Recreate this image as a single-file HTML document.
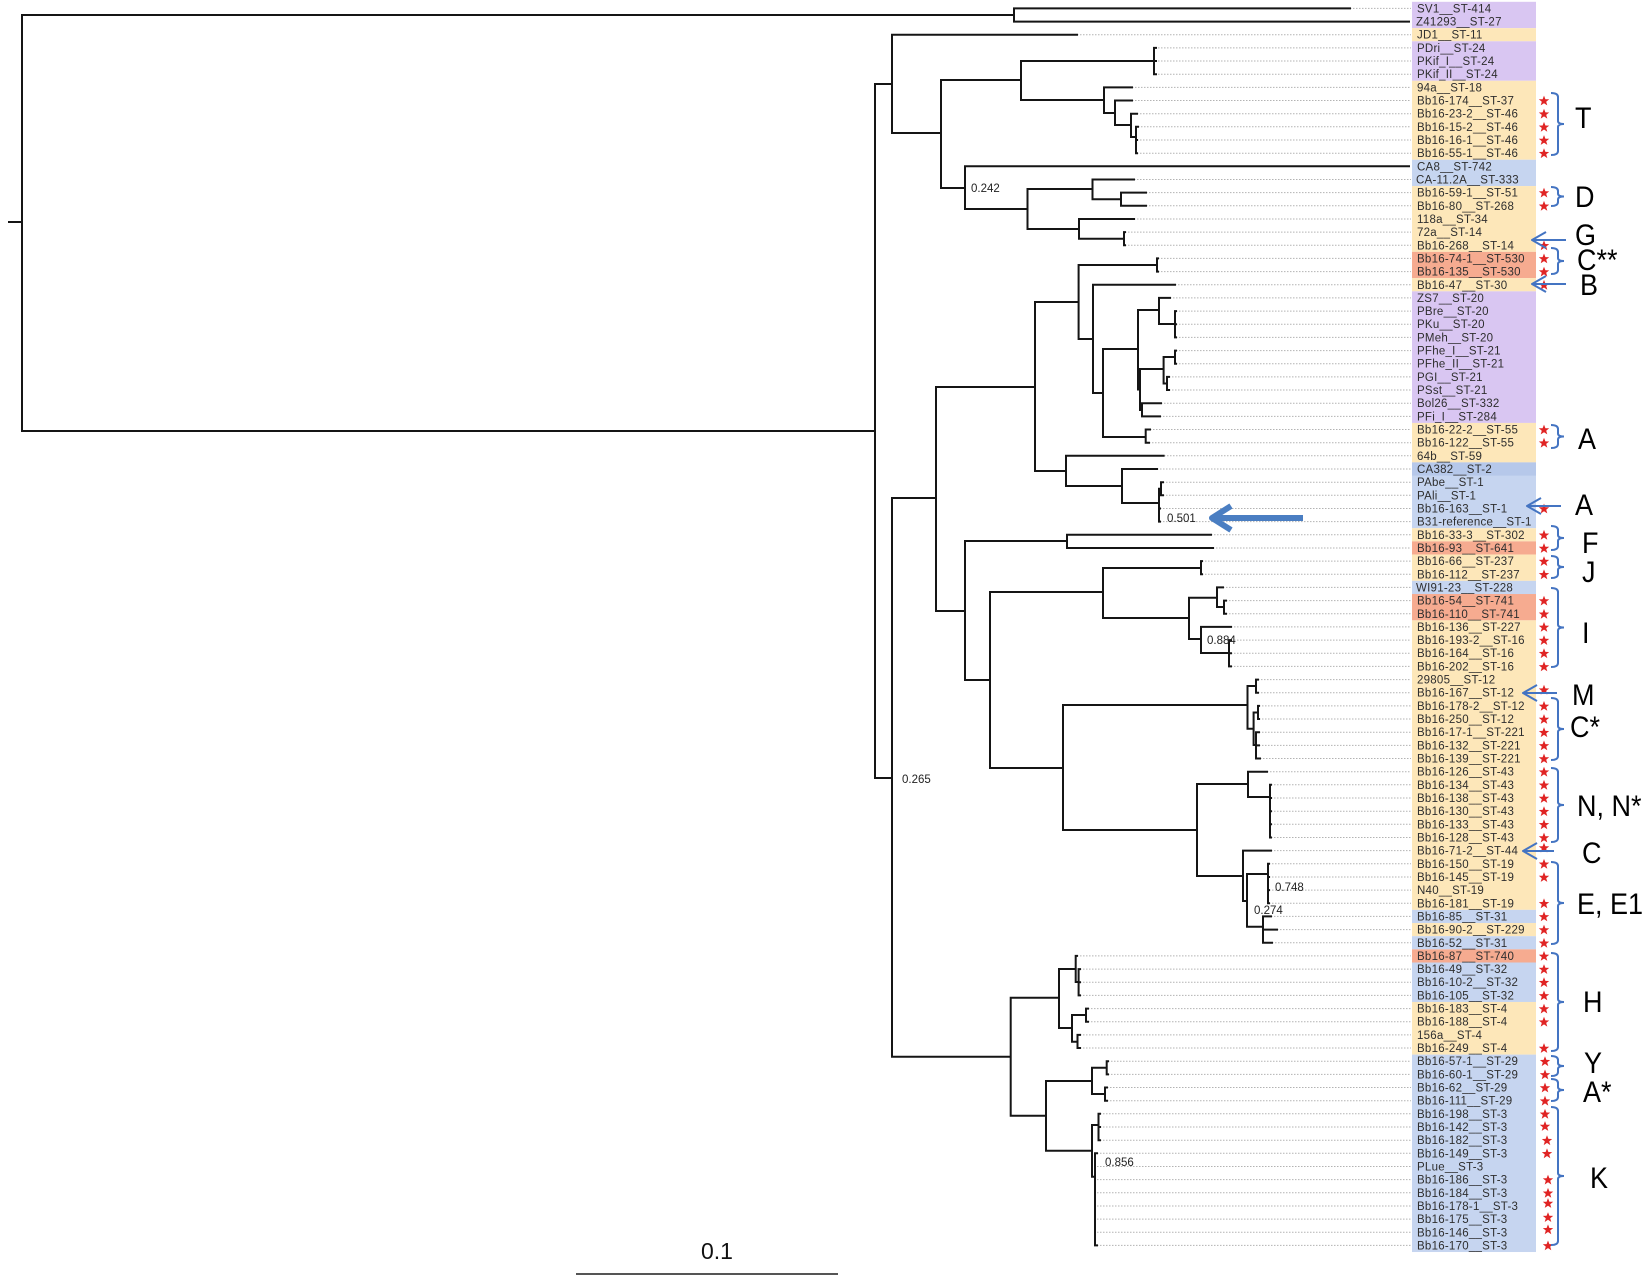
<!DOCTYPE html>
<html><head><meta charset="utf-8"><style>
html,body{margin:0;padding:0;background:#fff;}
svg{display:block;}
.lb{font-family:"Liberation Sans",Arial,sans-serif;font-size:11.5px;letter-spacing:0.25px;fill:#2e2e2e;}
.nl{font-family:"Liberation Sans",Arial,sans-serif;font-size:11.5px;fill:#222;}
.big{font-family:"Liberation Sans",Arial,sans-serif;font-size:30px;fill:#000;}
</style></head><body>
<svg width="1650" height="1283" viewBox="0 0 1650 1283" xmlns="http://www.w3.org/2000/svg">
<rect width="1650" height="1283" fill="#fff"/>
<g>
<rect x="1412" y="1.82" width="124" height="26.32" fill="#D9C6F2"/>
<rect x="1412" y="28.14" width="124" height="13.16" fill="#FDE7B9"/>
<rect x="1412" y="41.3" width="124" height="39.48" fill="#D9C6F2"/>
<rect x="1412" y="80.78" width="124" height="78.96" fill="#FDE7B9"/>
<rect x="1412" y="159.74" width="124" height="26.32" fill="#C6D5F0"/>
<rect x="1412" y="186.06" width="124" height="65.8" fill="#FDE7B9"/>
<rect x="1412" y="251.86" width="124" height="26.32" fill="#F6AB90"/>
<rect x="1412" y="278.18" width="124" height="13.16" fill="#FDE7B9"/>
<rect x="1412" y="291.34" width="124" height="131.6" fill="#D9C6F2"/>
<rect x="1412" y="422.94" width="124" height="39.48" fill="#FDE7B9"/>
<rect x="1412" y="462.42" width="124" height="65.8" fill="#C6D5F0"/>
<rect x="1412" y="462.42" width="124" height="13.16" fill="#B6C8EA"/>
<rect x="1412" y="528.22" width="124" height="13.16" fill="#FDE7B9"/>
<rect x="1412" y="541.38" width="124" height="13.16" fill="#F6AB90"/>
<rect x="1412" y="554.54" width="124" height="26.32" fill="#FDE7B9"/>
<rect x="1412" y="580.86" width="124" height="13.16" fill="#C6D5F0"/>
<rect x="1412" y="594.02" width="124" height="26.32" fill="#F6AB90"/>
<rect x="1412" y="620.34" width="124" height="289.52" fill="#FDE7B9"/>
<rect x="1412" y="909.86" width="124" height="13.16" fill="#C6D5F0"/>
<rect x="1412" y="923.02" width="124" height="13.16" fill="#FDE7B9"/>
<rect x="1412" y="936.18" width="124" height="13.16" fill="#C6D5F0"/>
<rect x="1412" y="949.34" width="124" height="13.16" fill="#F6AB90"/>
<rect x="1412" y="962.5" width="124" height="39.48" fill="#C6D5F0"/>
<rect x="1412" y="1001.98" width="124" height="52.64" fill="#FDE7B9"/>
<rect x="1412" y="1054.62" width="124" height="197.4" fill="#C6D5F0"/>
</g>
<path fill="none" stroke="#b3b3b3" stroke-width="1" stroke-dasharray="1.5 1.5" d="
M1350 8.4H1411 M1077 34.7H1411 M1155 47.9H1411 M1155 61H1411 M1155 74.2H1411
M1132 87.4H1411 M1132 100.5H1411 M1137 113.7H1411 M1138 126.8H1411 M1137 140H1411 M1137 153.2H1411
M1134 179.5H1411 M1146 192.6H1411 M1146 205.8H1411 M1134 219H1411 M1125 232.1H1411 M1125 245.3H1411
M1158 258.4H1411 M1158 271.6H1411 M1175 284.8H1411 M1170 297.9H1411 M1176 311.1H1411 M1176 324.2H1411 M1176 337.4H1411
M1176 350.6H1411 M1176 363.7H1411 M1169 376.9H1411 M1169 390H1411 M1161 403.2H1411 M1160 416.4H1411 M1150 429.5H1411
M1149 442.7H1411 M1164 455.8H1411 M1157 469H1411 M1163 482.2H1411 M1163 495.3H1411 M1160 508.5H1411 M1160 521.6H1411
M1211 534.8H1411 M1213 548H1411 M1202 561.1H1411 M1202 574.3H1411 M1223 587.4H1411 M1226 600.6H1411 M1226 613.8H1411
M1231 626.9H1411 M1231 640.1H1411 M1231 653.2H1411 M1231 666.4H1411
M1258 679.6H1411 M1258 692.7H1411 M1259 705.9H1411 M1259 719H1411 M1259 732.2H1411 M1259 745.4H1411 M1260 758.5H1411
M1267 771.7H1411 M1271 784.8H1411 M1271 798H1411 M1271 811.2H1411 M1271 824.3H1411 M1271 837.5H1411 M1271 850.6H1411
M1269 863.8H1411 M1269 877H1411 M1269 890.1H1411 M1269 903.3H1411 M1271 916.4H1411 M1277 929.6H1411 M1272 942.8H1411
M1077 955.9H1411 M1080 969.1H1411 M1080 982.2H1411 M1080 995.4H1411 M1088 1008.6H1411 M1088 1021.7H1411 M1080 1034.9H1411 M1080 1048H1411
M1108 1061.2H1411 M1108 1074.4H1411 M1107 1087.5H1411 M1107 1100.7H1411 M1100 1113.8H1411 M1100 1127H1411 M1100 1140.2H1411
M1097 1153.3H1411 M1097 1166.5H1411 M1097 1179.6H1411 M1097 1192.8H1411 M1097 1206H1411 M1097 1219.1H1411 M1097 1232.3H1411 M1097 1245.4H1411"/>
<path fill="none" stroke="#151515" stroke-width="2" stroke-linecap="square" d="
M9 222H22 M22 15V431 M22 15H1014 M1014 8.4V21.6 M1014 8.4H1350 M1014 21.6H1409
M22 431H875 M875 84V778 M875 84H892 M892 34.7V133 M892 34.7H1077 M892 133H941
M941 80V188 M941 80H1021 M1021 61V100 M1021 61H1154 M1154 47.9V74.2 M1154 47.9H1156 M1154 61H1156 M1154 74.2H1156
M1021 100H1104 M1104 87.4V113 M1104 87.4H1132 M1104 113H1115 M1115 100.5V125 M1115 100.5H1132
M1115 125H1131 M1131 113.7V137 M1131 113.7H1137 M1131 137H1136 M1136 126.8V153.2 M1136 126.8H1138 M1136 140H1137 M1136 153.2H1137
M941 188H965 M965 166.3V209 M965 166.3H1409 M965 209H1027.5 M1027.5 189V229 M1027.5 189H1092.5
M1092.5 179.5V199.2 M1092.5 179.5H1134 M1092.5 199.2H1121 M1121 192.6V205.8 M1121 192.6H1146 M1121 205.8H1146
M1027.5 229H1079 M1079 219V238.7 M1079 219H1134 M1079 238.7H1124 M1124 232.1V245.3 M1124 232.1H1125 M1124 245.3H1125
M875 778H892 M892 498V1056.7 M892 498H936 M936 387V611 M936 387H1035 M1035 302V471 M1035 302H1078.6
M1078.6 265V339 M1078.6 265H1157 M1157 258.4V271.6 M1157 258.4H1158 M1157 271.6H1158
M1078.6 339H1093 M1093 284.8V393 M1093 284.8H1175 M1093 393H1103 M1103 349V437 M1103 349H1138
M1138 310V389.5 M1138 310H1159 M1159 297.9V324 M1159 297.9H1170 M1159 324H1175 M1175 311.1V337.4 M1175 311.1H1176 M1175 324.2H1176 M1175 337.4H1176
M1138 389.5H1140 M1140 369V410 M1140 369H1163.6 M1163.6 357V383.5 M1163.6 357H1175 M1175 350.6V363.7 M1175 350.6H1176 M1175 363.7H1176
M1163.6 383.5H1167 M1167 376.9V390 M1167 376.9H1169 M1167 390H1169
M1140 410H1142 M1142 403.2V416.4 M1142 403.2H1161 M1142 416.4H1160
M1103 437H1145.7 M1145.7 429.5V442.7 M1145.7 429.5H1150 M1145.7 442.7H1149
M1035 471H1066 M1066 455.8V486 M1066 455.8H1163.6 M1066 486H1122 M1122 469V503 M1122 469H1157 M1122 503H1159
M1159 488.7V521.6 M1159 488.7H1161 M1161 482.2V495.3 M1161 482.2H1163 M1161 495.3H1163 M1159 508.5H1160 M1159 521.6H1160
M936 611H965 M965 541V680 M965 541H1067 M1067 534.8V548 M1067 534.8H1211 M1067 548H1213
M965 680H990 M990 592V768 M990 592H1103 M1103 568V618 M1103 568H1201 M1201 561.1V574.3 M1201 561.1H1202 M1201 574.3H1202
M1103 618H1189 M1189 597.7V639 M1189 597.7H1217 M1217 587.4V607 M1217 587.4H1223 M1217 607H1224 M1224 600.6V613.8 M1224 600.6H1226 M1224 613.8H1226
M1189 639H1201 M1201 626.9V653 M1201 626.9H1231 M1201 653H1229 M1229 640.1V666.4 M1229 640.1H1231 M1229 653.2H1231 M1229 666.4H1231
M990 768H1063 M1063 705V830 M1063 705H1247.5 M1247.5 686V728.8 M1247.5 686H1256 M1256 679.6V692.7 M1256 679.6H1258 M1256 692.7H1258
M1247.5 728.8H1253.6 M1253.6 712.5V745 M1253.6 712.5H1258 M1258 705.9V719 M1258 705.9H1259 M1258 719H1259
M1253.6 745H1256 M1256 732.2V758.5 M1256 732.2H1259 M1256 745.4H1259 M1256 758.5H1260
M1063 830H1197 M1197 784V876 M1197 784H1248 M1248 771.7V797 M1248 771.7H1267 M1248 797H1270 M1270 784.8V837.5
M1270 784.8H1271 M1270 798H1271 M1270 811.2H1271 M1270 824.3H1271 M1270 837.5H1271
M1197 876H1243 M1243 850.6V901 M1243 850.6H1271 M1243 901H1247 M1247 874V926.7 M1247 874H1268 M1268 863.8V903.3
M1268 863.8H1269 M1268 877H1269 M1268 890.1H1269 M1268 903.3H1269
M1247 926.7H1263 M1263 916.4V942.8 M1263 916.4H1271 M1263 929.6H1277 M1263 942.8H1272
M892 1056.7H1010.7 M1010.7 997.7V1115.7 M1010.7 997.7H1059 M1059 969V1028 M1059 969H1075.7
M1075.7 955.9V982 M1075.7 955.9H1077 M1075.7 982H1078.6 M1078.6 969.1V995.4 M1078.6 969.1H1080 M1078.6 982.2H1080 M1078.6 995.4H1080
M1059 1028H1072 M1072 1015V1041.7 M1072 1015H1086 M1086 1008.6V1021.7 M1086 1008.6H1088 M1086 1021.7H1088
M1072 1041.7H1077.5 M1077.5 1034.9V1048 M1077.5 1034.9H1080 M1077.5 1048H1080
M1010.7 1115.7H1046 M1046 1081V1150.7 M1046 1081H1092 M1092 1067.7V1094 M1092 1067.7H1106.7 M1106.7 1061.2V1074.4 M1106.7 1061.2H1108 M1106.7 1074.4H1108
M1092 1094H1105 M1105 1087.5V1100.7 M1105 1087.5H1107 M1105 1100.7H1107
M1046 1150.7H1092 M1092 1125V1176.7 M1092 1125H1098.5 M1098.5 1113.8V1140.2 M1098.5 1113.8H1100 M1098.5 1127H1100 M1098.5 1140.2H1100
M1092 1176.7H1095 M1095 1153.3V1245.4 M1095 1153.3H1097 M1095 1245.4H1097"/>
<text class="nl" x="971" y="192">0.242</text>
<text class="nl" x="1167" y="522">0.501</text>
<text class="nl" x="1207" y="644">0.884</text>
<text class="nl" x="902" y="783">0.265</text>
<text class="nl" x="1275" y="891">0.748</text>
<text class="nl" x="1254" y="914">0.274</text>
<text class="nl" x="1105" y="1166">0.856</text>
<path d="M1303 518H1216 M1231 506L1212 518L1231 530" fill="none" stroke="#4A7EC2" stroke-width="6" stroke-linejoin="round"/>
<g class="lb">
<text x="1417" y="12.4">SV1__ST-414</text>
<text x="1416" y="25.6">Z41293__ST-27</text>
<text x="1417" y="38.7">JD1__ST-11</text>
<text x="1417" y="51.9">PDri__ST-24</text>
<text x="1417" y="65">PKif_I__ST-24</text>
<text x="1417" y="78.2">PKif_II__ST-24</text>
<text x="1417" y="91.4">94a__ST-18</text>
<text x="1417" y="104.5">Bb16-174__ST-37</text>
<text x="1417" y="117.7">Bb16-23-2__ST-46</text>
<text x="1417" y="130.8">Bb16-15-2__ST-46</text>
<text x="1417" y="144">Bb16-16-1__ST-46</text>
<text x="1417" y="157.2">Bb16-55-1__ST-46</text>
<text x="1417" y="170.3">CA8__ST-742</text>
<text x="1416" y="183.5">CA-11.2A__ST-333</text>
<text x="1417" y="196.6">Bb16-59-1__ST-51</text>
<text x="1417" y="209.8">Bb16-80__ST-268</text>
<text x="1417" y="223">118a__ST-34</text>
<text x="1417" y="236.1">72a__ST-14</text>
<text x="1417" y="249.3">Bb16-268__ST-14</text>
<text x="1417" y="262.4">Bb16-74-1__ST-530</text>
<text x="1417" y="275.6">Bb16-135__ST-530</text>
<text x="1417" y="288.8">Bb16-47__ST-30</text>
<text x="1417" y="301.9">ZS7__ST-20</text>
<text x="1417" y="315.1">PBre__ST-20</text>
<text x="1417" y="328.2">PKu__ST-20</text>
<text x="1417" y="341.4">PMeh__ST-20</text>
<text x="1417" y="354.6">PFhe_I__ST-21</text>
<text x="1417" y="367.7">PFhe_II__ST-21</text>
<text x="1417" y="380.9">PGI__ST-21</text>
<text x="1417" y="394">PSst__ST-21</text>
<text x="1417" y="407.2">Bol26__ST-332</text>
<text x="1417" y="420.4">PFi_I__ST-284</text>
<text x="1417" y="433.5">Bb16-22-2__ST-55</text>
<text x="1417" y="446.7">Bb16-122__ST-55</text>
<text x="1417" y="459.8">64b__ST-59</text>
<text x="1417" y="473">CA382__ST-2</text>
<text x="1417" y="486.2">PAbe__ST-1</text>
<text x="1417" y="499.3">PAli__ST-1</text>
<text x="1417" y="512.5">Bb16-163__ST-1</text>
<text x="1417" y="525.6">B31-reference__ST-1</text>
<text x="1417" y="538.8">Bb16-33-3__ST-302</text>
<text x="1417" y="552">Bb16-93__ST-641</text>
<text x="1417" y="565.1">Bb16-66__ST-237</text>
<text x="1417" y="578.3">Bb16-112__ST-237</text>
<text x="1416" y="591.4">WI91-23__ST-228</text>
<text x="1417" y="604.6">Bb16-54__ST-741</text>
<text x="1417" y="617.8">Bb16-110__ST-741</text>
<text x="1417" y="630.9">Bb16-136__ST-227</text>
<text x="1417" y="644.1">Bb16-193-2__ST-16</text>
<text x="1417" y="657.2">Bb16-164__ST-16</text>
<text x="1417" y="670.4">Bb16-202__ST-16</text>
<text x="1417" y="683.6">29805__ST-12</text>
<text x="1417" y="696.7">Bb16-167__ST-12</text>
<text x="1417" y="709.9">Bb16-178-2__ST-12</text>
<text x="1417" y="723">Bb16-250__ST-12</text>
<text x="1417" y="736.2">Bb16-17-1__ST-221</text>
<text x="1417" y="749.4">Bb16-132__ST-221</text>
<text x="1417" y="762.5">Bb16-139__ST-221</text>
<text x="1417" y="775.7">Bb16-126__ST-43</text>
<text x="1417" y="788.8">Bb16-134__ST-43</text>
<text x="1417" y="802">Bb16-138__ST-43</text>
<text x="1417" y="815.2">Bb16-130__ST-43</text>
<text x="1417" y="828.3">Bb16-133__ST-43</text>
<text x="1417" y="841.5">Bb16-128__ST-43</text>
<text x="1417" y="854.6">Bb16-71-2__ST-44</text>
<text x="1417" y="867.8">Bb16-150__ST-19</text>
<text x="1417" y="881">Bb16-145__ST-19</text>
<text x="1417" y="894.1">N40__ST-19</text>
<text x="1417" y="907.3">Bb16-181__ST-19</text>
<text x="1417" y="920.4">Bb16-85__ST-31</text>
<text x="1417" y="933.6">Bb16-90-2__ST-229</text>
<text x="1417" y="946.8">Bb16-52__ST-31</text>
<text x="1417" y="959.9">Bb16-87__ST-740</text>
<text x="1417" y="973.1">Bb16-49__ST-32</text>
<text x="1417" y="986.2">Bb16-10-2__ST-32</text>
<text x="1417" y="999.4">Bb16-105__ST-32</text>
<text x="1417" y="1012.6">Bb16-183__ST-4</text>
<text x="1417" y="1025.7">Bb16-188__ST-4</text>
<text x="1417" y="1038.9">156a__ST-4</text>
<text x="1417" y="1052">Bb16-249__ST-4</text>
<text x="1417" y="1065.2">Bb16-57-1__ST-29</text>
<text x="1417" y="1078.4">Bb16-60-1__ST-29</text>
<text x="1417" y="1091.5">Bb16-62__ST-29</text>
<text x="1417" y="1104.7">Bb16-111__ST-29</text>
<text x="1417" y="1117.8">Bb16-198__ST-3</text>
<text x="1417" y="1131">Bb16-142__ST-3</text>
<text x="1417" y="1144.2">Bb16-182__ST-3</text>
<text x="1417" y="1157.3">Bb16-149__ST-3</text>
<text x="1417" y="1170.5">PLue__ST-3</text>
<text x="1417" y="1183.6">Bb16-186__ST-3</text>
<text x="1417" y="1196.8">Bb16-184__ST-3</text>
<text x="1417" y="1210">Bb16-178-1__ST-3</text>
<text x="1417" y="1223.1">Bb16-175__ST-3</text>
<text x="1417" y="1236.3">Bb16-146__ST-3</text>
<text x="1417" y="1249.4">Bb16-170__ST-3</text>
</g>
<g fill="#E02424">
<path transform="translate(1544,101)" d="M0 -5.4L1.4 -1.8L5.2 -1.7L2.2 0.7L3.3 4.4L0 2.2L-3.3 4.4L-2.2 0.7L-5.2 -1.7L-1.4 -1.8Z"/>
<path transform="translate(1544,114.2)" d="M0 -5.4L1.4 -1.8L5.2 -1.7L2.2 0.7L3.3 4.4L0 2.2L-3.3 4.4L-2.2 0.7L-5.2 -1.7L-1.4 -1.8Z"/>
<path transform="translate(1544,127.3)" d="M0 -5.4L1.4 -1.8L5.2 -1.7L2.2 0.7L3.3 4.4L0 2.2L-3.3 4.4L-2.2 0.7L-5.2 -1.7L-1.4 -1.8Z"/>
<path transform="translate(1544,140.5)" d="M0 -5.4L1.4 -1.8L5.2 -1.7L2.2 0.7L3.3 4.4L0 2.2L-3.3 4.4L-2.2 0.7L-5.2 -1.7L-1.4 -1.8Z"/>
<path transform="translate(1544,153.7)" d="M0 -5.4L1.4 -1.8L5.2 -1.7L2.2 0.7L3.3 4.4L0 2.2L-3.3 4.4L-2.2 0.7L-5.2 -1.7L-1.4 -1.8Z"/>
<path transform="translate(1544,193.1)" d="M0 -5.4L1.4 -1.8L5.2 -1.7L2.2 0.7L3.3 4.4L0 2.2L-3.3 4.4L-2.2 0.7L-5.2 -1.7L-1.4 -1.8Z"/>
<path transform="translate(1544,206.3)" d="M0 -5.4L1.4 -1.8L5.2 -1.7L2.2 0.7L3.3 4.4L0 2.2L-3.3 4.4L-2.2 0.7L-5.2 -1.7L-1.4 -1.8Z"/>
<path transform="translate(1544,245.8)" d="M0 -5.4L1.4 -1.8L5.2 -1.7L2.2 0.7L3.3 4.4L0 2.2L-3.3 4.4L-2.2 0.7L-5.2 -1.7L-1.4 -1.8Z"/>
<path transform="translate(1544,258.9)" d="M0 -5.4L1.4 -1.8L5.2 -1.7L2.2 0.7L3.3 4.4L0 2.2L-3.3 4.4L-2.2 0.7L-5.2 -1.7L-1.4 -1.8Z"/>
<path transform="translate(1544,272.1)" d="M0 -5.4L1.4 -1.8L5.2 -1.7L2.2 0.7L3.3 4.4L0 2.2L-3.3 4.4L-2.2 0.7L-5.2 -1.7L-1.4 -1.8Z"/>
<path transform="translate(1544,285.3)" d="M0 -5.4L1.4 -1.8L5.2 -1.7L2.2 0.7L3.3 4.4L0 2.2L-3.3 4.4L-2.2 0.7L-5.2 -1.7L-1.4 -1.8Z"/>
<path transform="translate(1544,430)" d="M0 -5.4L1.4 -1.8L5.2 -1.7L2.2 0.7L3.3 4.4L0 2.2L-3.3 4.4L-2.2 0.7L-5.2 -1.7L-1.4 -1.8Z"/>
<path transform="translate(1544,443.2)" d="M0 -5.4L1.4 -1.8L5.2 -1.7L2.2 0.7L3.3 4.4L0 2.2L-3.3 4.4L-2.2 0.7L-5.2 -1.7L-1.4 -1.8Z"/>
<path transform="translate(1544,509)" d="M0 -5.4L1.4 -1.8L5.2 -1.7L2.2 0.7L3.3 4.4L0 2.2L-3.3 4.4L-2.2 0.7L-5.2 -1.7L-1.4 -1.8Z"/>
<path transform="translate(1544,535.3)" d="M0 -5.4L1.4 -1.8L5.2 -1.7L2.2 0.7L3.3 4.4L0 2.2L-3.3 4.4L-2.2 0.7L-5.2 -1.7L-1.4 -1.8Z"/>
<path transform="translate(1544,548.5)" d="M0 -5.4L1.4 -1.8L5.2 -1.7L2.2 0.7L3.3 4.4L0 2.2L-3.3 4.4L-2.2 0.7L-5.2 -1.7L-1.4 -1.8Z"/>
<path transform="translate(1544,561.6)" d="M0 -5.4L1.4 -1.8L5.2 -1.7L2.2 0.7L3.3 4.4L0 2.2L-3.3 4.4L-2.2 0.7L-5.2 -1.7L-1.4 -1.8Z"/>
<path transform="translate(1544,574.8)" d="M0 -5.4L1.4 -1.8L5.2 -1.7L2.2 0.7L3.3 4.4L0 2.2L-3.3 4.4L-2.2 0.7L-5.2 -1.7L-1.4 -1.8Z"/>
<path transform="translate(1544,601.1)" d="M0 -5.4L1.4 -1.8L5.2 -1.7L2.2 0.7L3.3 4.4L0 2.2L-3.3 4.4L-2.2 0.7L-5.2 -1.7L-1.4 -1.8Z"/>
<path transform="translate(1544,614.3)" d="M0 -5.4L1.4 -1.8L5.2 -1.7L2.2 0.7L3.3 4.4L0 2.2L-3.3 4.4L-2.2 0.7L-5.2 -1.7L-1.4 -1.8Z"/>
<path transform="translate(1544,627.4)" d="M0 -5.4L1.4 -1.8L5.2 -1.7L2.2 0.7L3.3 4.4L0 2.2L-3.3 4.4L-2.2 0.7L-5.2 -1.7L-1.4 -1.8Z"/>
<path transform="translate(1544,640.6)" d="M0 -5.4L1.4 -1.8L5.2 -1.7L2.2 0.7L3.3 4.4L0 2.2L-3.3 4.4L-2.2 0.7L-5.2 -1.7L-1.4 -1.8Z"/>
<path transform="translate(1544,653.7)" d="M0 -5.4L1.4 -1.8L5.2 -1.7L2.2 0.7L3.3 4.4L0 2.2L-3.3 4.4L-2.2 0.7L-5.2 -1.7L-1.4 -1.8Z"/>
<path transform="translate(1544,666.9)" d="M0 -5.4L1.4 -1.8L5.2 -1.7L2.2 0.7L3.3 4.4L0 2.2L-3.3 4.4L-2.2 0.7L-5.2 -1.7L-1.4 -1.8Z"/>
<path transform="translate(1544,690.2)" d="M0 -5.4L1.4 -1.8L5.2 -1.7L2.2 0.7L3.3 4.4L0 2.2L-3.3 4.4L-2.2 0.7L-5.2 -1.7L-1.4 -1.8Z"/>
<path transform="translate(1544,706.4)" d="M0 -5.4L1.4 -1.8L5.2 -1.7L2.2 0.7L3.3 4.4L0 2.2L-3.3 4.4L-2.2 0.7L-5.2 -1.7L-1.4 -1.8Z"/>
<path transform="translate(1544,719.5)" d="M0 -5.4L1.4 -1.8L5.2 -1.7L2.2 0.7L3.3 4.4L0 2.2L-3.3 4.4L-2.2 0.7L-5.2 -1.7L-1.4 -1.8Z"/>
<path transform="translate(1544,732.7)" d="M0 -5.4L1.4 -1.8L5.2 -1.7L2.2 0.7L3.3 4.4L0 2.2L-3.3 4.4L-2.2 0.7L-5.2 -1.7L-1.4 -1.8Z"/>
<path transform="translate(1544,745.9)" d="M0 -5.4L1.4 -1.8L5.2 -1.7L2.2 0.7L3.3 4.4L0 2.2L-3.3 4.4L-2.2 0.7L-5.2 -1.7L-1.4 -1.8Z"/>
<path transform="translate(1544,759)" d="M0 -5.4L1.4 -1.8L5.2 -1.7L2.2 0.7L3.3 4.4L0 2.2L-3.3 4.4L-2.2 0.7L-5.2 -1.7L-1.4 -1.8Z"/>
<path transform="translate(1544,772.2)" d="M0 -5.4L1.4 -1.8L5.2 -1.7L2.2 0.7L3.3 4.4L0 2.2L-3.3 4.4L-2.2 0.7L-5.2 -1.7L-1.4 -1.8Z"/>
<path transform="translate(1544,785.3)" d="M0 -5.4L1.4 -1.8L5.2 -1.7L2.2 0.7L3.3 4.4L0 2.2L-3.3 4.4L-2.2 0.7L-5.2 -1.7L-1.4 -1.8Z"/>
<path transform="translate(1544,798.5)" d="M0 -5.4L1.4 -1.8L5.2 -1.7L2.2 0.7L3.3 4.4L0 2.2L-3.3 4.4L-2.2 0.7L-5.2 -1.7L-1.4 -1.8Z"/>
<path transform="translate(1544,811.7)" d="M0 -5.4L1.4 -1.8L5.2 -1.7L2.2 0.7L3.3 4.4L0 2.2L-3.3 4.4L-2.2 0.7L-5.2 -1.7L-1.4 -1.8Z"/>
<path transform="translate(1544,824.8)" d="M0 -5.4L1.4 -1.8L5.2 -1.7L2.2 0.7L3.3 4.4L0 2.2L-3.3 4.4L-2.2 0.7L-5.2 -1.7L-1.4 -1.8Z"/>
<path transform="translate(1544,838)" d="M0 -5.4L1.4 -1.8L5.2 -1.7L2.2 0.7L3.3 4.4L0 2.2L-3.3 4.4L-2.2 0.7L-5.2 -1.7L-1.4 -1.8Z"/>
<path transform="translate(1544,848.1)" d="M0 -5.4L1.4 -1.8L5.2 -1.7L2.2 0.7L3.3 4.4L0 2.2L-3.3 4.4L-2.2 0.7L-5.2 -1.7L-1.4 -1.8Z"/>
<path transform="translate(1544,864.3)" d="M0 -5.4L1.4 -1.8L5.2 -1.7L2.2 0.7L3.3 4.4L0 2.2L-3.3 4.4L-2.2 0.7L-5.2 -1.7L-1.4 -1.8Z"/>
<path transform="translate(1544,877.5)" d="M0 -5.4L1.4 -1.8L5.2 -1.7L2.2 0.7L3.3 4.4L0 2.2L-3.3 4.4L-2.2 0.7L-5.2 -1.7L-1.4 -1.8Z"/>
<path transform="translate(1544,903.8)" d="M0 -5.4L1.4 -1.8L5.2 -1.7L2.2 0.7L3.3 4.4L0 2.2L-3.3 4.4L-2.2 0.7L-5.2 -1.7L-1.4 -1.8Z"/>
<path transform="translate(1544,916.9)" d="M0 -5.4L1.4 -1.8L5.2 -1.7L2.2 0.7L3.3 4.4L0 2.2L-3.3 4.4L-2.2 0.7L-5.2 -1.7L-1.4 -1.8Z"/>
<path transform="translate(1544,930.1)" d="M0 -5.4L1.4 -1.8L5.2 -1.7L2.2 0.7L3.3 4.4L0 2.2L-3.3 4.4L-2.2 0.7L-5.2 -1.7L-1.4 -1.8Z"/>
<path transform="translate(1544,943.3)" d="M0 -5.4L1.4 -1.8L5.2 -1.7L2.2 0.7L3.3 4.4L0 2.2L-3.3 4.4L-2.2 0.7L-5.2 -1.7L-1.4 -1.8Z"/>
<path transform="translate(1544,956.4)" d="M0 -5.4L1.4 -1.8L5.2 -1.7L2.2 0.7L3.3 4.4L0 2.2L-3.3 4.4L-2.2 0.7L-5.2 -1.7L-1.4 -1.8Z"/>
<path transform="translate(1544,969.6)" d="M0 -5.4L1.4 -1.8L5.2 -1.7L2.2 0.7L3.3 4.4L0 2.2L-3.3 4.4L-2.2 0.7L-5.2 -1.7L-1.4 -1.8Z"/>
<path transform="translate(1544,982.7)" d="M0 -5.4L1.4 -1.8L5.2 -1.7L2.2 0.7L3.3 4.4L0 2.2L-3.3 4.4L-2.2 0.7L-5.2 -1.7L-1.4 -1.8Z"/>
<path transform="translate(1544,995.9)" d="M0 -5.4L1.4 -1.8L5.2 -1.7L2.2 0.7L3.3 4.4L0 2.2L-3.3 4.4L-2.2 0.7L-5.2 -1.7L-1.4 -1.8Z"/>
<path transform="translate(1544,1009.1)" d="M0 -5.4L1.4 -1.8L5.2 -1.7L2.2 0.7L3.3 4.4L0 2.2L-3.3 4.4L-2.2 0.7L-5.2 -1.7L-1.4 -1.8Z"/>
<path transform="translate(1544,1022.2)" d="M0 -5.4L1.4 -1.8L5.2 -1.7L2.2 0.7L3.3 4.4L0 2.2L-3.3 4.4L-2.2 0.7L-5.2 -1.7L-1.4 -1.8Z"/>
<path transform="translate(1544,1048.5)" d="M0 -5.4L1.4 -1.8L5.2 -1.7L2.2 0.7L3.3 4.4L0 2.2L-3.3 4.4L-2.2 0.7L-5.2 -1.7L-1.4 -1.8Z"/>
<path transform="translate(1545,1061.7)" d="M0 -5.4L1.4 -1.8L5.2 -1.7L2.2 0.7L3.3 4.4L0 2.2L-3.3 4.4L-2.2 0.7L-5.2 -1.7L-1.4 -1.8Z"/>
<path transform="translate(1545,1074.9)" d="M0 -5.4L1.4 -1.8L5.2 -1.7L2.2 0.7L3.3 4.4L0 2.2L-3.3 4.4L-2.2 0.7L-5.2 -1.7L-1.4 -1.8Z"/>
<path transform="translate(1545,1088)" d="M0 -5.4L1.4 -1.8L5.2 -1.7L2.2 0.7L3.3 4.4L0 2.2L-3.3 4.4L-2.2 0.7L-5.2 -1.7L-1.4 -1.8Z"/>
<path transform="translate(1545,1101.2)" d="M0 -5.4L1.4 -1.8L5.2 -1.7L2.2 0.7L3.3 4.4L0 2.2L-3.3 4.4L-2.2 0.7L-5.2 -1.7L-1.4 -1.8Z"/>
<path transform="translate(1545,1114.3)" d="M0 -5.4L1.4 -1.8L5.2 -1.7L2.2 0.7L3.3 4.4L0 2.2L-3.3 4.4L-2.2 0.7L-5.2 -1.7L-1.4 -1.8Z"/>
<path transform="translate(1545,1126.5)" d="M0 -5.4L1.4 -1.8L5.2 -1.7L2.2 0.7L3.3 4.4L0 2.2L-3.3 4.4L-2.2 0.7L-5.2 -1.7L-1.4 -1.8Z"/>
<path transform="translate(1547,1140.7)" d="M0 -5.4L1.4 -1.8L5.2 -1.7L2.2 0.7L3.3 4.4L0 2.2L-3.3 4.4L-2.2 0.7L-5.2 -1.7L-1.4 -1.8Z"/>
<path transform="translate(1547,1153.8)" d="M0 -5.4L1.4 -1.8L5.2 -1.7L2.2 0.7L3.3 4.4L0 2.2L-3.3 4.4L-2.2 0.7L-5.2 -1.7L-1.4 -1.8Z"/>
<path transform="translate(1548,1180.1)" d="M0 -5.4L1.4 -1.8L5.2 -1.7L2.2 0.7L3.3 4.4L0 2.2L-3.3 4.4L-2.2 0.7L-5.2 -1.7L-1.4 -1.8Z"/>
<path transform="translate(1548,1193.3)" d="M0 -5.4L1.4 -1.8L5.2 -1.7L2.2 0.7L3.3 4.4L0 2.2L-3.3 4.4L-2.2 0.7L-5.2 -1.7L-1.4 -1.8Z"/>
<path transform="translate(1548,1203.5)" d="M0 -5.4L1.4 -1.8L5.2 -1.7L2.2 0.7L3.3 4.4L0 2.2L-3.3 4.4L-2.2 0.7L-5.2 -1.7L-1.4 -1.8Z"/>
<path transform="translate(1548,1217.6)" d="M0 -5.4L1.4 -1.8L5.2 -1.7L2.2 0.7L3.3 4.4L0 2.2L-3.3 4.4L-2.2 0.7L-5.2 -1.7L-1.4 -1.8Z"/>
<path transform="translate(1548,1229.8)" d="M0 -5.4L1.4 -1.8L5.2 -1.7L2.2 0.7L3.3 4.4L0 2.2L-3.3 4.4L-2.2 0.7L-5.2 -1.7L-1.4 -1.8Z"/>
<path transform="translate(1548,1245.9)" d="M0 -5.4L1.4 -1.8L5.2 -1.7L2.2 0.7L3.3 4.4L0 2.2L-3.3 4.4L-2.2 0.7L-5.2 -1.7L-1.4 -1.8Z"/>
</g>
<path fill="none" stroke="#4474C2" stroke-width="2" d="
M1551 93Q1558 93 1558 97V121Q1558 124 1564 124Q1558 124 1558 127V151Q1558 155 1551 155
M1551 187Q1558 187 1558 191V193.5Q1558 196.5 1564 196.5Q1558 196.5 1558 199.5V202Q1558 206 1551 206
M1551 248Q1558 248 1558 252V258Q1558 261 1564 261Q1558 261 1558 264V270Q1558 274 1551 274
M1551 425Q1558 425 1558 429V433.5Q1558 436.5 1564 436.5Q1558 436.5 1558 439.5V444Q1558 448 1551 448
M1551 526Q1558 526 1558 530V535Q1558 538 1564 538Q1558 538 1558 541V546Q1558 550 1551 550
M1551 556Q1558 556 1558 560V564Q1558 567 1564 567Q1558 567 1558 570V574Q1558 578 1551 578
M1551 588Q1558 588 1558 592V624.5Q1558 627.5 1564 627.5Q1558 627.5 1558 630.5V663Q1558 667 1551 667
M1551 698Q1558 698 1558 702V726Q1558 729 1564 729Q1558 729 1558 732V756Q1558 760 1551 760
M1551 768Q1558 768 1558 772V802Q1558 805 1564 805Q1558 805 1558 808V838Q1558 842 1551 842
M1551 862Q1558 862 1558 866V900Q1558 903 1564 903Q1558 903 1558 906V940Q1558 944 1551 944
M1551 953Q1558 953 1558 957V999Q1558 1002 1564 1002Q1558 1002 1558 1005V1047Q1558 1051 1551 1051
M1551 1056Q1558 1056 1558 1060V1063Q1558 1066 1564 1066Q1558 1066 1558 1069V1072Q1558 1076 1551 1076
M1551 1079Q1558 1079 1558 1083V1087Q1558 1090 1564 1090Q1558 1090 1558 1093V1097Q1558 1101 1551 1101
M1551 1107Q1558 1107 1558 1111V1173Q1558 1176 1564 1176Q1558 1176 1558 1179V1241Q1558 1245 1551 1245"/>
<path fill="none" stroke="#4474C2" stroke-width="2" stroke-linejoin="round" d="
M1566 240H1533 M1546 232L1532 240L1546 248
M1566 284H1533 M1546 276L1532 284L1546 292
M1561 506H1528 M1541 498L1527 506L1541 514
M1557 693H1524 M1537 685L1523 693L1537 701
M1554 851H1524 M1537 843L1523 851L1537 859"/>
<g class="big">
<text transform="translate(1575,128) scale(0.9,1)">T</text>
<text transform="translate(1575,207) scale(0.9,1)">D</text>
<text transform="translate(1575,245) scale(0.9,1)">G</text>
<text transform="translate(1577,270) scale(0.9,1)">C**</text>
<text transform="translate(1580,295) scale(0.9,1)">B</text>
<text transform="translate(1578,449) scale(0.9,1)">A</text>
<text transform="translate(1575,515) scale(0.9,1)">A</text>
<text transform="translate(1582,553) scale(0.9,1)">F</text>
<text transform="translate(1582,582) scale(0.9,1)">J</text>
<text transform="translate(1582,643) scale(0.9,1)">I</text>
<text transform="translate(1572,705) scale(0.9,1)">M</text>
<text transform="translate(1570,737) scale(0.9,1)">C*</text>
<text transform="translate(1577,816) scale(0.9,1)">N, N*</text>
<text transform="translate(1582,863) scale(0.9,1)">C</text>
<text transform="translate(1577,914) scale(0.9,1)">E, E1</text>
<text transform="translate(1583,1012) scale(0.9,1)">H</text>
<text transform="translate(1584,1073) scale(0.9,1)">Y</text>
<text transform="translate(1583,1102) scale(0.9,1)">A*</text>
<text transform="translate(1590,1188) scale(0.9,1)">K</text>
</g>
<text x="717" y="1259" text-anchor="middle" font-family="Liberation Sans, Arial, sans-serif" font-size="23" fill="#111">0.1</text>
<path d="M576 1274H838" stroke="#555" stroke-width="2"/>
</svg>
</body></html>
